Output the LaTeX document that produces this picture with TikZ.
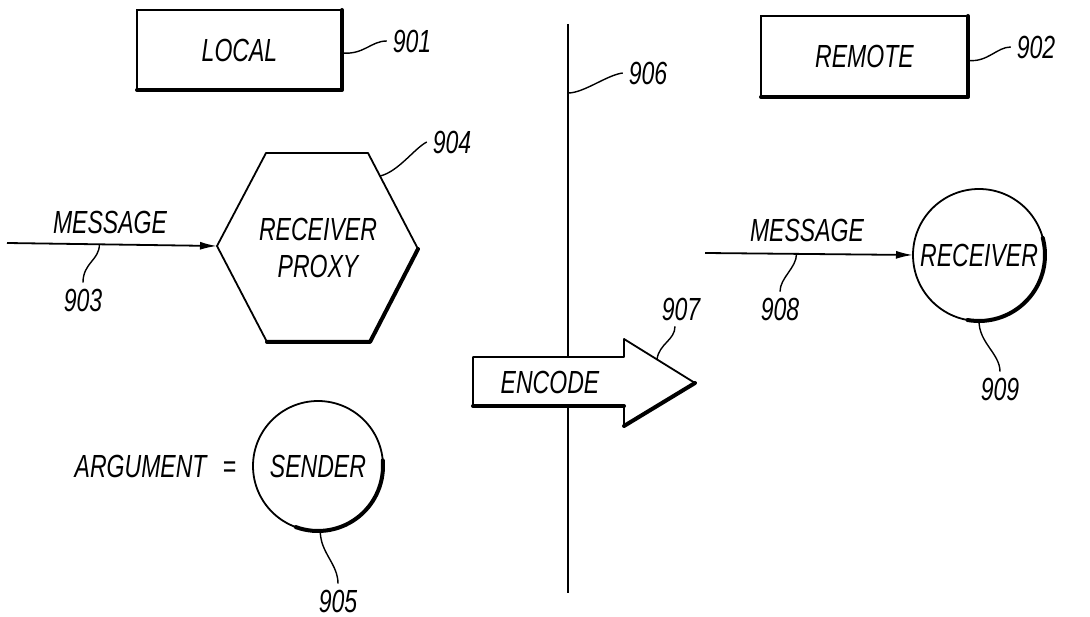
\documentclass[tikz,border=0pt]{standalone}
\usepackage{fontspec}
\newfontfamily\pf{Liberation Sans}[FakeStretch=0.72]
\usetikzlibrary{arrows.meta}
\begin{document}
\begin{tikzpicture}[x=1pt,y=-1pt,
  every node/.style={font=\pf\itshape\fontsize{32}{37}\selectfont, inner sep=0pt, outer sep=0pt},
  num/.style={inner sep=6pt},
  thinline/.style={line width=1.8pt, line join=round},
  shadeline/.style={line width=4pt, line cap=round, line join=round},
  box/.style={draw, line width=1.8pt, minimum width=205pt, minimum height=80pt},
  ring/.style={draw, circle, line width=1.8pt, minimum size=130pt},
  lead/.style={line width=1.4pt},
  msg/.style={line width=1.8pt, -{Latex[length=17pt,width=8pt]}}]
\useasboundingbox (0,0) rectangle (1090,617);

% boxes
\node[box] (local) at (239.5,50) {LOCAL};
\draw[shadeline] (local.north east) -- (local.south east) -- (local.south west);
\node[box, minimum width=207pt, minimum height=81pt] (remote) at (864.5,56.5) {REMOTE};
\draw[shadeline] (remote.north east) -- (remote.south east) -- (remote.south west);

% dividing line
\coordinate (lt) at (568,24);
\coordinate (lb) at (568,593);
\draw[line width=2.6pt] (lt) -- (lb);
\coordinate (c906) at (lt |- 0,93);

% receiver proxy hexagon
\node[align=center] (rp) at (318,248) {RECEIVER\\PROXY};
\draw[thinline] (266,153) -- (368,153) -- (418,249) -- (370,342) -- (267,342) -- (217,246) -- cycle;
\draw[shadeline] (418,249) -- (370,342) -- (267,342);
\coordinate (hexL) at (217,246);
\coordinate (hexE) at (380,176);

% left message
\coordinate (m1) at (7,243);
\draw[msg] (m1) -- coordinate[pos=0.44] (c903) (hexL);
\node (msg1) at (110,222) {MESSAGE};

% sender
\node[ring] (sender) at (318,466) {SENDER};
\draw[shadeline] (sender.-110) arc[start angle=-110, end angle=5, radius=65pt];
\node[anchor=east] (arg) at (236,466) {ARGUMENT\hspace{16pt}=};

% receiver
\node[ring, minimum size=132pt] (receiver) at (979,255) {RECEIVER};
\draw[shadeline] (receiver.-100) arc[start angle=-100, end angle=15, radius=66pt];
\coordinate (m2) at (705,253);
\draw[msg] (m2) -- coordinate[pos=0.44] (c908) (receiver.west);
\node (msg2) at (807,230) {MESSAGE};

% encode arrow
\draw[thinline, fill=white] (473,357) -- (624,357) -- (624,339) -- (695,383) -- (624,426) -- (624,406) -- (473,406) -- cycle;
\draw[shadeline] (695,383) -- (624,426);
\draw[shadeline] (624,406) -- (473,406);
\node (enc) at (550,382) {ENCODE};
\coordinate (headE) at (657,359.5);

% reference numbers
\node[num] (n901) at (412,41) {901};
\node[num] (n902) at (1036,47) {902};
\node[num] (n903) at (83,300) {903};
\node[num] (n904) at (452,142) {904};
\node[num] (n905) at (338,601) {905};
\node[num] (n906) at (648,73) {906};
\node[num] (n907) at (681,309) {907};
\node[num] (n908) at (780,309) {908};
\node[num] (n909) at (1000,389) {909};

\draw[lead] ([yshift=-3pt]local.east) .. controls +(22,2) and +(-16,0) .. (n901.west);
\draw[lead] ([yshift=-4pt]remote.east) .. controls +(20,2) and +(-14,0) .. (n902.west);
\draw[lead] (c903) .. controls +(0,16) and +(0,-20) .. (n903.north);
\draw[lead] (hexE) .. controls +(18,-4) and +(-12,6) .. (n904.west);
\draw[lead] (sender.-88) .. controls +(0,22) and +(0,-20) .. (n905.north);
\draw[lead] (c906) .. controls +(16,0) and +(-16,2) .. (n906.west);
\draw[lead] (headE) .. controls +(2,-16) and +(0,14) .. ([xshift=-6pt]n907.south);
\draw[lead] (c908) .. controls +(0,14) and +(0,-14) .. (n908.north);
\draw[lead] (receiver.-90) .. controls +(0,22) and +(0,-18) .. (n909.north);
\end{tikzpicture}
\end{document}
